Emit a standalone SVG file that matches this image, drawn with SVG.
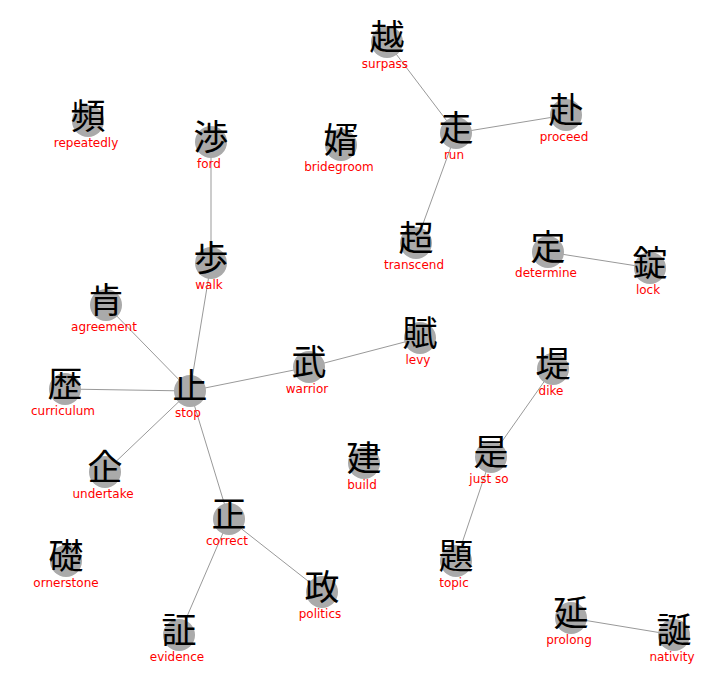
<svg xmlns="http://www.w3.org/2000/svg" width="713" height="687" viewBox="0 0 713 687">
<style>
.n circle{fill:#aaaaaa}
.k{font-family:"Noto Sans CJK JP","Noto Sans CJK SC",sans-serif;font-size:35px;fill:#000;text-anchor:middle}
.l{font-family:"DejaVu Sans",sans-serif;font-size:12px;fill:#ff0000;text-anchor:middle}
#edges line{stroke:#999999;stroke-width:1}
</style>
<rect width="713" height="687" fill="#ffffff"/>
<g id="edges">
<line x1="387" y1="42" x2="456" y2="133"/>
<line x1="456" y1="133" x2="566" y2="115"/>
<line x1="456" y1="133" x2="416" y2="243"/>
<line x1="548" y1="252" x2="650" y2="268"/>
<line x1="211" y1="142" x2="211" y2="263"/>
<line x1="211" y1="263" x2="190" y2="391"/>
<line x1="106" y1="305" x2="190" y2="391"/>
<line x1="65" y1="389" x2="190" y2="391"/>
<line x1="105" y1="472" x2="190" y2="391"/>
<line x1="190" y1="391" x2="309" y2="367"/>
<line x1="309" y1="367" x2="420" y2="338"/>
<line x1="190" y1="391" x2="229" y2="519"/>
<line x1="229" y1="519" x2="322" y2="592"/>
<line x1="229" y1="519" x2="179" y2="635"/>
<line x1="553" y1="369" x2="491" y2="457"/>
<line x1="491" y1="457" x2="456" y2="561"/>
<line x1="571" y1="618" x2="674" y2="635"/>
</g>
<g id="n-etsu" class="n"><circle cx="387" cy="42" r="16"/><text class="k" x="387" y="50">越</text><text class="l" x="385" y="68">surpass</text></g>
<g id="n-sou" class="n"><circle cx="456" cy="133" r="16"/><text class="k" x="456" y="141">走</text><text class="l" x="454" y="159">run</text></g>
<g id="n-fu" class="n"><circle cx="566" cy="115" r="16"/><text class="k" x="566" y="123">赴</text><text class="l" x="564" y="141">proceed</text></g>
<g id="n-hin" class="n"><circle cx="88" cy="121" r="16"/><text class="k" x="88" y="129">頻</text><text class="l" x="86" y="147">repeatedly</text></g>
<g id="n-shou" class="n"><circle cx="211" cy="142" r="16"/><text class="k" x="211" y="150">渉</text><text class="l" x="209" y="168">ford</text></g>
<g id="n-muko" class="n"><circle cx="341" cy="145" r="16"/><text class="k" x="341" y="153">婿</text><text class="l" x="339" y="171">bridegroom</text></g>
<g id="n-chou" class="n"><circle cx="416" cy="243" r="16"/><text class="k" x="416" y="251">超</text><text class="l" x="414" y="269">transcend</text></g>
<g id="n-tei" class="n"><circle cx="548" cy="252" r="16"/><text class="k" x="548" y="260">定</text><text class="l" x="546" y="277">determine</text></g>
<g id="n-jou" class="n"><circle cx="650" cy="268" r="16"/><text class="k" x="650" y="276">錠</text><text class="l" x="648" y="294">lock</text></g>
<g id="n-ho" class="n"><circle cx="211" cy="263" r="16"/><text class="k" x="211" y="271">歩</text><text class="l" x="209" y="289">walk</text></g>
<g id="n-kou" class="n"><circle cx="106" cy="305" r="16"/><text class="k" x="106" y="313">肯</text><text class="l" x="104" y="331">agreement</text></g>
<g id="n-fu2" class="n"><circle cx="420" cy="338" r="16"/><text class="k" x="420" y="346">賦</text><text class="l" x="418" y="364">levy</text></g>
<g id="n-tei2" class="n"><circle cx="553" cy="369" r="16"/><text class="k" x="553" y="377">堤</text><text class="l" x="551" y="395">dike</text></g>
<g id="n-bu" class="n"><circle cx="309" cy="367" r="16"/><text class="k" x="309" y="375">武</text><text class="l" x="307" y="393">warrior</text></g>
<g id="n-reki" class="n"><circle cx="65" cy="389" r="16"/><text class="k" x="65" y="397">歴</text><text class="l" x="63" y="415">curriculum</text></g>
<g id="n-shi" class="n"><circle cx="190" cy="391" r="16"/><text class="k" x="190" y="399">止</text><text class="l" x="188" y="417">stop</text></g>
<g id="n-ki" class="n"><circle cx="105" cy="472" r="16"/><text class="k" x="105" y="480">企</text><text class="l" x="103" y="498">undertake</text></g>
<g id="n-ken" class="n"><circle cx="364" cy="463" r="16"/><text class="k" x="364" y="471">建</text><text class="l" x="362" y="489">build</text></g>
<g id="n-ze" class="n"><circle cx="491" cy="457" r="16"/><text class="k" x="491" y="465">是</text><text class="l" x="489" y="483">just so</text></g>
<g id="n-sei" class="n"><circle cx="229" cy="519" r="16"/><text class="k" x="229" y="527">正</text><text class="l" x="227" y="545">correct</text></g>
<g id="n-so" class="n"><circle cx="66" cy="561" r="16"/><text class="k" x="66" y="569">礎</text><text class="l" x="66" y="587">ornerstone</text></g>
<g id="n-sei2" class="n"><circle cx="322" cy="592" r="16"/><text class="k" x="322" y="600">政</text><text class="l" x="320" y="618">politics</text></g>
<g id="n-dai" class="n"><circle cx="456" cy="561" r="16"/><text class="k" x="456" y="569">題</text><text class="l" x="454" y="587">topic</text></g>
<g id="n-en" class="n"><circle cx="571" cy="618" r="16"/><text class="k" x="571" y="626">延</text><text class="l" x="569" y="644">prolong</text></g>
<g id="n-tan" class="n"><circle cx="674" cy="635" r="16"/><text class="k" x="674" y="643">誕</text><text class="l" x="672" y="661">nativity</text></g>
<g id="n-shou2" class="n"><circle cx="179" cy="635" r="16"/><text class="k" x="179" y="643">証</text><text class="l" x="177" y="661">evidence</text></g>
</svg>
